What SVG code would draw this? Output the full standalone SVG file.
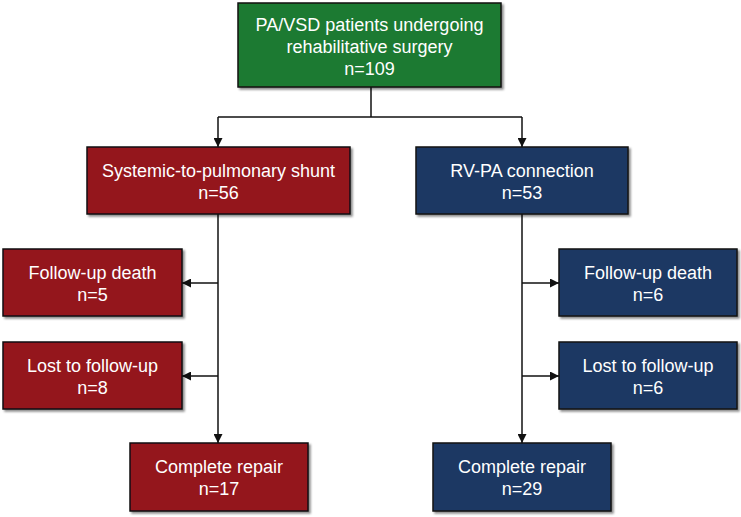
<svg xmlns="http://www.w3.org/2000/svg" width="741" height="517" viewBox="0 0 741 517">
<style>
.box{stroke:#111;stroke-width:1.5;filter:url(#sh)}
.g{fill:#1a7a32}
.r{fill:#94131b}
.b{fill:#1f3864}
text{font-family:"Liberation Sans",Arial,sans-serif;font-size:18px;fill:#fff;text-anchor:middle}
.c line{stroke:#111;stroke-width:1.5}
</style>
<defs>
<filter id="sh" x="-10%" y="-10%" width="130%" height="130%">
<feDropShadow dx="2" dy="2" stdDeviation="1.2" flood-color="#000" flood-opacity="0.45"/>
</filter>
<marker id="ah" viewBox="0 0 10 10" refX="10" refY="5" markerWidth="9" markerHeight="9" markerUnits="userSpaceOnUse" orient="auto">
<path d="M0,0 L10,5 L0,10 z" fill="#111"/>
</marker>
</defs>
<g class="c">
<line x1="371" y1="87" x2="371" y2="117"/>
<line x1="218" y1="117" x2="522" y2="117"/>
<line x1="218" y1="117" x2="218" y2="147" marker-end="url(#ah)"/>
<line x1="522" y1="117" x2="522" y2="147" marker-end="url(#ah)"/>
<line x1="218" y1="214" x2="218" y2="443" marker-end="url(#ah)"/>
<line x1="218" y1="283" x2="182" y2="283" marker-end="url(#ah)"/>
<line x1="218" y1="376" x2="182" y2="376" marker-end="url(#ah)"/>
<line x1="522" y1="214" x2="522" y2="443" marker-end="url(#ah)"/>
<line x1="522" y1="283" x2="559" y2="283" marker-end="url(#ah)"/>
<line x1="522" y1="376" x2="559" y2="376" marker-end="url(#ah)"/>
</g>
<g id="root">
<rect class="box g" x="238" y="3" width="263" height="84"/>
<text x="369.5" y="31">PA/VSD patients undergoing</text>
<text x="369.5" y="53">rehabilitative surgery</text>
<text x="369.5" y="75">n=109</text>
</g>
<g id="shunt">
<rect class="box r" x="87" y="147" width="263" height="67"/>
<text x="218.5" y="177">Systemic-to-pulmonary shunt</text>
<text x="218.5" y="199">n=56</text>
</g>
<g id="rvpa">
<rect class="box b" x="416" y="147" width="212" height="67"/>
<text x="522" y="177">RV-PA connection</text>
<text x="522" y="199">n=53</text>
</g>
<g id="shunt-death">
<rect class="box r" x="3" y="249" width="179" height="67"/>
<text x="92.5" y="279">Follow-up death</text>
<text x="92.5" y="301">n=5</text>
</g>
<g id="shunt-lost">
<rect class="box r" x="3" y="342" width="179" height="67"/>
<text x="92.5" y="372">Lost to follow-up</text>
<text x="92.5" y="394">n=8</text>
</g>
<g id="shunt-repair">
<rect class="box r" x="130" y="443" width="178" height="68"/>
<text x="219" y="473">Complete repair</text>
<text x="219" y="495">n=17</text>
</g>
<g id="rvpa-death">
<rect class="box b" x="559" y="249" width="178" height="67"/>
<text x="648" y="279">Follow-up death</text>
<text x="648" y="301">n=6</text>
</g>
<g id="rvpa-lost">
<rect class="box b" x="559" y="342" width="178" height="67"/>
<text x="648" y="372">Lost to follow-up</text>
<text x="648" y="394">n=6</text>
</g>
<g id="rvpa-repair">
<rect class="box b" x="433" y="443" width="178" height="68"/>
<text x="522" y="473">Complete repair</text>
<text x="522" y="495">n=29</text>
</g>
</svg>
